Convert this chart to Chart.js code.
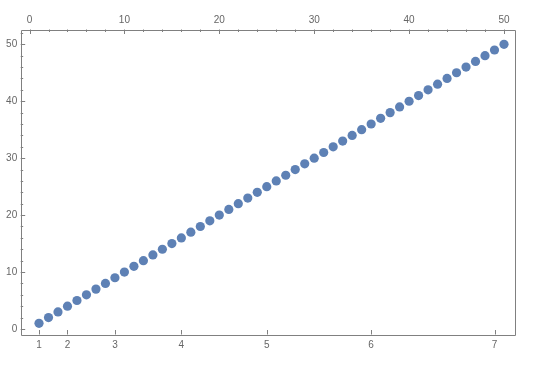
<!DOCTYPE html>
<html>
<head>
<meta charset="utf-8">
<script src="https://cdn.jsdelivr.net/npm/chart.js@4/dist/chart.umd.min.js"></script>
<style>
html,body{margin:0;padding:0;background:#fff;}
#wrap{width:540px;height:367px;}
</style>
</head>
<body>
<div id="wrap"><canvas id="c" width="540" height="367"></canvas></div>
<script>
const xValues = [1,2,3,4,5,6,7,8,9,10,11,12,13,14,15,16,17,18,19,20,21,22,23,24,25,26,27,28,29,30,31,32,33,34,35,36,37,38,39,40,41,42,43,44,45,46,47,48,49,50];
const yValues = [1,2,3,4,5,6,7,8,9,10,11,12,13,14,15,16,17,18,19,20,21,22,23,24,25,26,27,28,29,30,31,32,33,34,35,36,37,38,39,40,41,42,43,44,45,46,47,48,49,50];
const topTickValues = [0,10,20,30,40,50];
const leftTickValues = [0,10,20,30,40,50];
const bottomTickValues = [1,4,9,16,25,36,49];
const bottomTickLabels = ['1','2','3','4','5','6','7'];

const X_MIN = -0.93, X_MAX = 51.16, Y_MIN = -0.97, Y_MAX = 52.6;
const FRAME = '#808080';
const LABEL = '#666666';
const FONT = {family: '"Liberation Sans", Arial, sans-serif', size: 10};

const points = xValues.map((x, i) => ({x: x, y: yValues[i]}));

const framePlugin = {
  id: 'frameTicks',
  afterDraw(chart) {
    const ctx = chart.ctx;
    const a = chart.chartArea;
    const xt = chart.scales.xTop, xb = chart.scales.xBottom, y = chart.scales.y;
    ctx.save();
    ctx.strokeStyle = FRAME;
    ctx.lineWidth = 1;
    ctx.beginPath();
    ctx.rect(Math.round(a.left) + 0.5, Math.round(a.top) + 0.5, Math.round(a.right - a.left), Math.round(a.bottom - a.top));
    ctx.stroke();
    ctx.beginPath();
    for (let v = 0; v <= 50; v += 2) {
      const px = Math.round(xt.getPixelForValue(v)) + 0.5;
      const len = (v % 10 === 0) ? 4.5 : 2.5;
      ctx.moveTo(px, a.top);
      ctx.lineTo(px, a.top + len);
    }
    for (let v = 0; v <= 52; v += 2) {
      const py = Math.round(y.getPixelForValue(v)) + 0.5;
      const len = (v % 10 === 0) ? 4.5 : 2.5;
      ctx.moveTo(a.left, py);
      ctx.lineTo(a.left + len, py);
    }
    bottomTickValues.forEach(v => {
      const px = Math.round(xb.getPixelForValue(v)) + 0.5;
      ctx.moveTo(px, a.bottom);
      ctx.lineTo(px, a.bottom - 4.5);
    });
    ctx.stroke();
    ctx.restore();
  }
};

new Chart(document.getElementById('c'), {
  type: 'scatter',
  data: {
    datasets: [{
      data: points,
      xAxisID: 'xTop',
      yAxisID: 'y',
      pointRadius: 4.6,
      pointHoverRadius: 4.6,
      pointBackgroundColor: '#5E81B5',
      pointBorderColor: '#5E81B5',
      pointBorderWidth: 0,
      showLine: false
    }]
  },
  options: {
    responsive: false,
    animation: false,
    events: [],
    layout: {padding: {left: 0, right: 25, top: 0, bottom: 0}},
    plugins: {legend: {display: false}, tooltip: {enabled: false}},
    scales: {
      xTop: {
        type: 'linear', position: 'top', min: X_MIN, max: X_MAX,
        afterBuildTicks: s => { s.ticks = topTickValues.map(v => ({value: v})); },
        afterFit: s => { s.height = 29.5; },
        grid: {display: false, drawTicks: false},
        border: {display: false},
        ticks: {color: LABEL, font: FONT, padding: 3, maxRotation: 0, autoSkip: false}
      },
      xBottom: {
        type: 'linear', position: 'bottom', min: X_MIN, max: X_MAX,
        afterBuildTicks: s => { s.ticks = bottomTickValues.map(v => ({value: v})); },
        afterFit: s => { s.height = 32.5; },
        grid: {display: false, drawTicks: false},
        border: {display: false},
        ticks: {
          color: LABEL, font: FONT, padding: 5, maxRotation: 0, autoSkip: false,
          callback: (v) => { const i = bottomTickValues.indexOf(v); return i >= 0 ? bottomTickLabels[i] : ''; }
        }
      },
      y: {
        type: 'linear', position: 'left', min: Y_MIN, max: Y_MAX,
        afterBuildTicks: s => { s.ticks = leftTickValues.map(v => ({value: v})); },
        afterFit: s => { s.width = 20.7; },
        grid: {display: false, drawTicks: false},
        border: {display: false},
        ticks: {color: LABEL, font: FONT, padding: 3.5, autoSkip: false}
      }
    }
  },
  plugins: [framePlugin]
});
</script>
</body>
</html>
